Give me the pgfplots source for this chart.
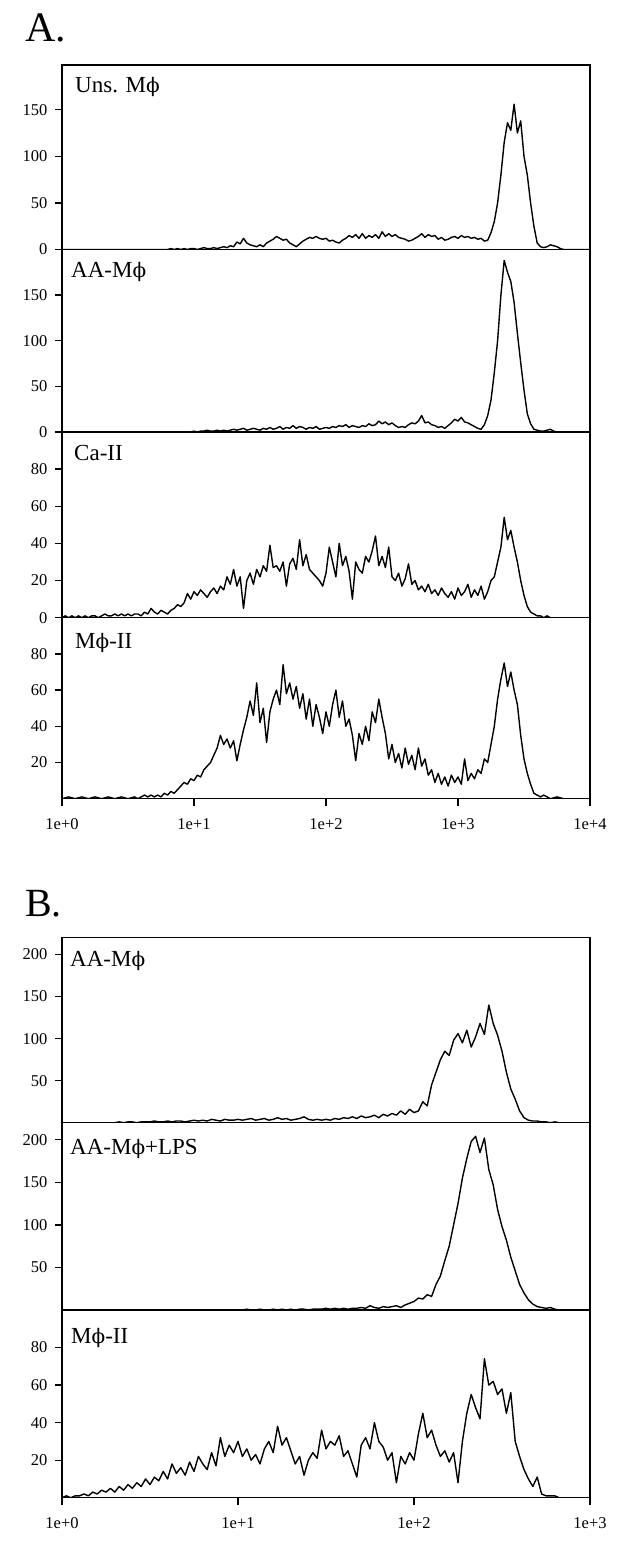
\documentclass[border=0pt]{standalone}
\usepackage{fontspec}
\setmainfont{Liberation Serif}
\newfontfamily\phifont{DejaVu Serif}
\usepackage{pgfplots}
\pgfplotsset{compat=1.18}

\newcommand{\tickfont}{\fontsize{16.5}{18}\selectfont}
\newcommand{\panelfont}{\fontsize{23}{26}\selectfont}
\newcommand{\phii}{{\phifont\fontsize{20}{22}\selectfont ϕ}}

\pgfplotsset{
  histo/.style={
    scale only axis, width=528pt,
    ymin=0,
    axis line style={line width=1.5pt},
    tick style={line width=1.3pt, black},
    major tick length=7pt,
    tick align=outside,
    ytick pos=left, xtick pos=bottom,
    minor tick num=0,
    tick label style={font=\tickfont},
    yticklabel style={xshift=-4pt},
    xticklabel style={yshift=-9pt},
    /pgf/number format/assume math mode=true,
    xtick=\empty,
  },
  trace/.style={black, line width=1.4pt, mark=none, line join=round},
}

\begin{document}
\begin{tikzpicture}
\useasboundingbox (0,0) rectangle (629pt,-1558pt);

\node[anchor=base west, inner sep=0] at (25pt,-41.7pt) {\fontsize{42}{44}\selectfont A.};
\node[anchor=base west, inner sep=0] at (25pt,-916pt) {\fontsize{40}{42}\selectfont B.};

% ---------------- panel A ----------------
\begin{axis}[histo, at={(62pt,-249.5pt)}, anchor=south west, height=184.5pt,
  xmin=0, xmax=160, ymax=198, ytick={0,50,100,150}]
\addplot[trace] coordinates {
(0,0)(32,0)(33,1)(34,0)(35,1)(36,0)(37,1)(38,0)(39,1)(40,1)(41,0)(42,1)(43,2)(44,1)(45,1)(46,2)(47,1)(48,2)(49,3)(50,2)
(51,4)(52,3)(53,8)(54,6)(55,12)(56,7)(57,5)(58,4)(59,3)(60,5)(61,3)(62,7)(63,9)(64,11)(65,14)(66,12)(67,10)(68,11)(69,7)(70,5)
(71,3)(72,6)(73,9)(74,11)(75,13)(76,12)(77,14)(78,12)(79,11)(80,12)(81,9)(82,10)(83,8)(84,7)(85,10)(86,12)(87,15)(88,13)(89,16)(90,12)
(91,17)(92,12)(93,15)(94,13)(95,16)(96,12)(97,19)(98,14)(99,17)(100,14)(101,16)(102,13)(103,12)(104,11)(105,9)(106,10)(107,12)(108,14)(109,17)(110,13)
(111,16)(112,14)(113,15)(114,11)(115,13)(116,10)(117,11)(118,13)(119,14)(120,12)(121,15)(122,13)(123,14)(124,12)(125,13)(126,11)(127,12)(128,9)(129,10)(130,18)
(131,30)(132,50)(133,80)(134,115)(135,136)(136,128)(137,156)(138,125)(139,138)(140,100)(141,80)(142,50)(143,25)(144,7)(145,3)(146,2)(147,3)(148,5)(149,4)(150,3)
(151,1)(152,0)(160,0)
};
\node[anchor=base west, inner sep=0, font=\panelfont] at (rel axis cs:0,1) [xshift=13pt, yshift=-27pt] {Uns. M\phii};
\end{axis}

\begin{axis}[histo, at={(62pt,-432pt)}, anchor=south west, height=182.5pt,
  xmin=0, xmax=160, ymax=200, ytick={0,50,100,150}]
\addplot[trace] coordinates {
(0,0)(39,0)(40,1)(41,0)(42,1)(43,1)(44,2)(45,1)(46,1)(47,2)(48,1)(49,2)(50,1)
(51,2)(52,3)(53,2)(54,3)(55,4)(56,2)(57,3)(58,4)(59,3)(60,2)(61,4)(62,3)(63,5)(64,3)(65,4)(66,6)(67,3)(68,5)(69,4)(70,7)
(71,4)(72,6)(73,5)(74,3)(75,5)(76,4)(77,6)(78,3)(79,4)(80,5)(81,4)(82,6)(83,5)(84,7)(85,6)(86,8)(87,5)(88,7)(89,6)(90,5)
(91,7)(92,6)(93,9)(94,7)(95,8)(96,12)(97,9)(98,11)(99,8)(100,10)(101,7)(102,5)(103,6)(104,5)(105,8)(106,10)(107,9)(108,12)(109,18)(110,10)
(111,11)(112,8)(113,7)(114,5)(115,6)(116,4)(117,7)(118,10)(119,14)(120,12)(121,16)(122,11)(123,10)(124,8)(125,6)(126,4)(127,3)(128,8)(129,18)(130,35)
(131,65)(132,100)(133,150)(134,188)(135,175)(136,165)(137,142)(138,108)(139,76)(140,46)(141,20)(142,9)(143,3)(144,2)(145,1)(146,1)(147,2)(148,3)(149,1)(150,0)
(160,0)
};
\node[anchor=base west, inner sep=0, font=\panelfont] at (rel axis cs:0,1) [xshift=9pt, yshift=-28pt] {AA-M\phii};
\end{axis}

\begin{axis}[histo, at={(62pt,-617.7pt)}, anchor=south west, height=185.7pt,
  xmin=0, xmax=160, ymax=100, ytick={0,20,40,60,80}]
\addplot[trace] coordinates {
(0,0)(1,1)(2,0)(3,1)(4,0)(5,1)(6,0)(7,1)(8,0)(9,1)(10,1)(11,0)(12,1)(13,2)(14,1)(15,1)(16,2)(17,1)(18,2)(19,1)(20,2)
(21,1)(22,2)(23,2)(24,1)(25,3)(26,2)(27,5)(28,3)(29,2)(30,4)(31,3)(32,2)(33,4)(34,5)(35,7)(36,6)(37,8)(38,13)(39,10)(40,14)
(41,12)(42,15)(43,13)(44,11)(45,14)(46,16)(47,13)(48,17)(49,15)(50,22)(51,18)(52,26)(53,17)(54,22)(55,5)(56,20)(57,24)(58,18)(59,26)(60,22)
(61,28)(62,25)(63,39)(64,27)(65,28)(66,25)(67,30)(68,17)(69,29)(70,32)(71,26)(72,42)(73,28)(74,34)(75,26)(76,24)(77,22)(78,20)(79,17)(80,24)
(81,38)(82,30)(83,22)(84,40)(85,28)(86,33)(87,25)(88,10)(89,30)(90,26)(91,24)(92,33)(93,30)(94,36)(95,44)(96,28)(97,33)(98,27)(99,38)(100,22)
(101,20)(102,24)(103,17)(104,21)(105,29)(106,18)(107,20)(108,15)(109,17)(110,14)(111,18)(112,13)(113,15)(114,12)(115,16)(116,13)(117,11)(118,14)(119,10)(120,16)
(121,12)(122,14)(123,18)(124,11)(125,15)(126,12)(127,17)(128,10)(129,14)(130,20)(131,22)(132,30)(133,38)(134,54)(135,42)(136,47)(137,38)(138,30)(139,20)(140,12)
(141,6)(142,3)(143,2)(144,1)(145,1)(146,0)(147,1)(148,0)(160,0)
};
\node[anchor=base west, inner sep=0, font=\panelfont] at (rel axis cs:0,1) [xshift=12pt, yshift=-28pt] {Ca-II};
\end{axis}

\begin{axis}[histo, at={(62pt,-798.7pt)}, anchor=south west, height=181pt,
  xmin=0, xmax=160, ymax=100, ytick={20,40,60,80},
  xtick={0,40,80,120,160}, xticklabels={1e+0,1e+1,1e+2,1e+3,1e+4}]
\addplot[trace] coordinates {
(0,0)(2,1)(4,0)(6,1)(8,0)(10,1)(12,0)(14,1)(16,0)(18,1)(20,0)(22,1)(23,0)(24,1)(25,2)(26,1)(27,2)(28,1)(29,2)(30,1)
(31,3)(32,2)(33,4)(34,3)(35,5)(36,7)(37,9)(38,8)(39,11)(40,10)(41,13)(42,12)(43,16)(44,18)(45,20)(46,24)(47,28)(48,35)(49,30)(50,33)
(51,28)(52,32)(53,21)(54,30)(55,38)(56,45)(57,54)(58,46)(59,64)(60,42)(61,50)(62,31)(63,48)(64,55)(65,60)(66,52)(67,74)(68,58)(69,64)(70,55)
(71,62)(72,50)(73,58)(74,44)(75,55)(76,40)(77,52)(78,45)(79,36)(80,48)(81,40)(82,52)(83,60)(84,45)(85,54)(86,40)(87,44)(88,35)(89,21)(90,36)
(91,30)(92,40)(93,32)(94,48)(95,42)(96,55)(97,45)(98,36)(99,22)(100,30)(101,20)(102,25)(103,17)(104,28)(105,19)(106,24)(107,16)(108,28)(109,18)(110,22)
(111,13)(112,16)(113,9)(114,14)(115,8)(116,12)(117,7)(118,13)(119,9)(120,12)(121,8)(122,22)(123,10)(124,14)(125,11)(126,16)(127,14)(128,22)(129,20)(130,30)
(131,40)(132,55)(133,66)(134,75)(135,62)(136,70)(137,60)(138,52)(139,35)(140,22)(141,14)(142,8)(143,3)(144,2)(145,1)(146,2)(147,1)(148,0)(150,1)(152,0)(160,0)
};
\node[anchor=base west, inner sep=0, font=\panelfont] at (rel axis cs:0,1) [xshift=13pt, yshift=-31pt] {M\phii-II};
\end{axis}

% ---------------- panel B ----------------
\begin{axis}[histo, at={(62pt,-1122.7pt)}, anchor=south west, height=185pt,
  xmin=0, xmax=120, ymax=220, ytick={50,100,150,200}]
\addplot[trace] coordinates {
(0,0)(12,0)(13,1)(14,0)(15,1)(16,1)(17,0)(18,1)(19,1)(20,1)
(21,2)(22,1)(23,1)(24,2)(25,1)(26,2)(27,2)(28,1)(29,2)(30,3)(31,2)(32,3)(33,2)(34,4)(35,3)(36,2)(37,4)(38,3)(39,3)(40,4)
(41,3)(42,4)(43,5)(44,3)(45,4)(46,5)(47,3)(48,4)(49,6)(50,4)(51,5)(52,3)(53,4)(54,5)(55,7)(56,4)(57,3)(58,4)(59,3)(60,4)
(61,3)(62,5)(63,4)(64,6)(65,5)(66,7)(67,5)(68,8)(69,6)(70,7)(71,9)(72,6)(73,10)(74,8)(75,11)(76,9)(77,14)(78,10)(79,16)(80,12)
(81,14)(82,25)(83,20)(84,45)(85,60)(86,75)(87,85)(88,80)(89,98)(90,106)(91,95)(92,110)(93,90)(94,102)(95,118)(96,105)(97,140)(98,118)(99,104)(100,85)
(101,60)(102,40)(103,28)(104,14)(105,6)(106,3)(107,2)(108,2)(109,1)(110,1)(111,0)(112,1)(113,0)(120,0)
};
\node[anchor=base west, inner sep=0, font=\panelfont] at (rel axis cs:0,1) [xshift=8pt, yshift=-29pt] {AA-M\phii};
\end{axis}

\begin{axis}[histo, at={(62pt,-1310pt)}, anchor=south west, height=187.3pt,
  xmin=0, xmax=120, ymax=220, ytick={50,100,150,200}]
\addplot[trace] coordinates {
(0,0)(40,0)(41,0)(42,1)(43,0)(44,0)(45,1)(46,0)(47,0)(48,1)(49,0)(50,1)
(51,0)(52,1)(53,0)(54,1)(55,1)(56,0)(57,1)(58,1)(59,1)(60,2)(61,1)(62,2)(63,1)(64,2)(65,1)(66,2)(67,2)(68,3)(69,2)(70,5)
(71,3)(72,2)(73,4)(74,3)(75,4)(76,5)(77,3)(78,6)(79,8)(80,10)(81,14)(82,13)(83,18)(84,16)(85,30)(86,40)(87,58)(88,75)(89,100)(90,125)
(91,155)(92,178)(93,198)(94,204)(95,185)(96,202)(97,165)(98,147)(99,118)(100,98)(101,82)(102,62)(103,46)(104,30)(105,20)(106,12)(107,7)(108,4)(109,3)(110,2)
(111,3)(112,1)(113,0)(120,0)
};
\node[anchor=base west, inner sep=0, font=\panelfont] at (rel axis cs:0,1) [xshift=8pt, yshift=-32pt] {AA-M\phii+LPS};
\end{axis}

\begin{axis}[histo, at={(62pt,-1497.7pt)}, anchor=south west, height=187.7pt,
  xmin=0, xmax=120, ymax=100, ytick={20,40,60,80},
  xtick={0,40,80,120}, xticklabels={1e+0,1e+1,1e+2,1e+3}]
\addplot[trace] coordinates {
(0,0)(1,1)(2,0)(3,1)(4,1)(5,2)(6,1)(7,3)(8,2)(9,4)(10,3)(11,5)(12,3)(13,6)(14,4)(15,7)(16,5)(17,8)(18,6)(19,10)(20,7)
(21,11)(22,9)(23,14)(24,10)(25,18)(26,13)(27,16)(28,12)(29,19)(30,14)(31,22)(32,18)(33,15)(34,24)(35,17)(36,32)(37,22)(38,28)(39,24)(40,30)
(41,22)(42,26)(43,20)(44,23)(45,18)(46,26)(47,30)(48,24)(49,38)(50,28)(51,32)(52,25)(53,18)(54,22)(55,12)(56,20)(57,24)(58,21)(59,36)(60,26)
(61,30)(62,28)(63,33)(64,22)(65,25)(66,18)(67,11)(68,28)(69,32)(70,26)(71,40)(72,30)(73,27)(74,20)(75,24)(76,8)(77,22)(78,18)(79,24)(80,20)
(81,34)(82,45)(83,32)(84,36)(85,28)(86,22)(87,25)(88,19)(89,24)(90,8)(91,30)(92,45)(93,55)(94,48)(95,42)(96,74)(97,60)(98,62)(99,55)(100,58)
(101,45)(102,56)(103,30)(104,22)(105,15)(106,10)(107,6)(108,11)(109,2)(110,1)(111,1)(112,1)(113,0)(120,0)
};
\node[anchor=base west, inner sep=0, font=\panelfont] at (rel axis cs:0,1) [xshift=9pt, yshift=-33pt] {M\phii-II};
\end{axis}
\end{tikzpicture}
\end{document}
